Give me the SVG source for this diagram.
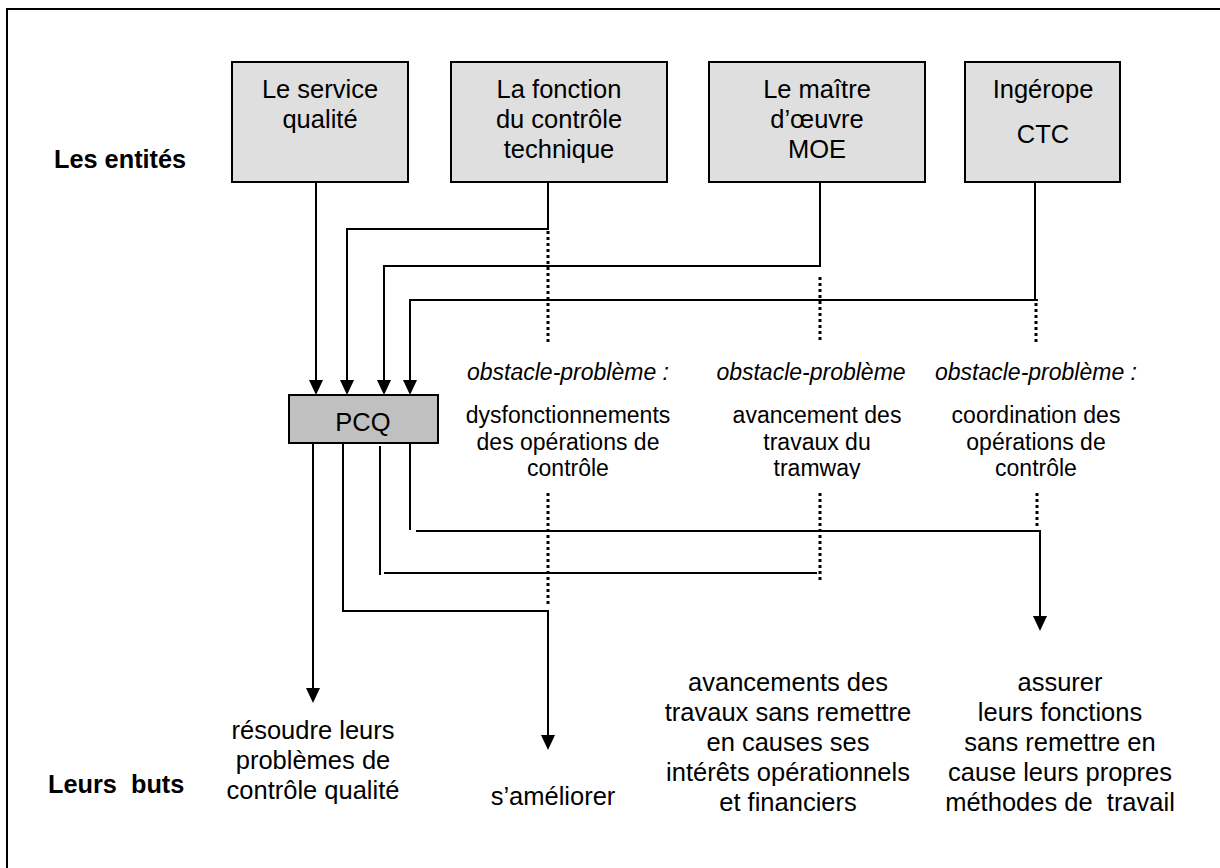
<svg xmlns="http://www.w3.org/2000/svg" width="1220" height="868" viewBox="0 0 1220 868">
<style>
text{font-family:"Liberation Sans",Arial,sans-serif;fill:#000;}
.t{font-size:25.5px;text-anchor:middle;}
.m{font-size:23px;text-anchor:middle;}
.i{font-size:23px;text-anchor:middle;font-style:italic;}
.b{font-size:25.3px;font-weight:bold;}
.box{fill:#dfdfdf;stroke:#000;stroke-width:2;}
.pcq{fill:#c0c0c0;stroke:#000;stroke-width:2;}
.ln{fill:none;stroke:#000;stroke-width:2;}
.ar{fill:none;stroke:#000;stroke-width:2;marker-end:url(#ah);}
.dot{fill:none;stroke:#000;stroke-width:3;stroke-dasharray:3 3;}
</style>
<defs>
<marker id="ah" markerUnits="userSpaceOnUse" markerWidth="15" markerHeight="14" viewBox="0 0 15 14" refX="0" refY="7" orient="auto">
<path d="M0,0 L15,7 L0,14 z" fill="#000"/>
</marker>
<clipPath id="clipTram"><rect x="700" y="390" width="240" height="89"/></clipPath>
</defs>
<rect x="0" y="0" width="1220" height="868" fill="#fff"/>
<path d="M7,868 V9 H1220" fill="none" stroke="#000" stroke-width="2"/>

<g id="label-entites"><text class="b" x="54" y="168">Les entités</text></g>
<g id="label-buts"><text class="b" x="48" y="793" xml:space="preserve">Leurs  buts</text></g>

<g id="node-service">
<rect class="box" x="232" y="62" width="176" height="120"/>
<text class="t" x="320" y="98">Le service</text>
<text class="t" x="320" y="128">qualité</text>
</g>
<g id="node-fonction">
<rect class="box" x="451" y="62" width="216" height="120"/>
<text class="t" x="559" y="98">La fonction</text>
<text class="t" x="559" y="128">du contrôle</text>
<text class="t" x="559" y="158">technique</text>
</g>
<g id="node-moe">
<rect class="box" x="709" y="62" width="216" height="120"/>
<text class="t" x="817" y="98">Le maître</text>
<text class="t" x="817" y="128">d’œuvre</text>
<text class="t" x="817" y="158">MOE</text>
</g>
<g id="node-ingerope">
<rect class="box" x="965" y="62" width="155" height="120"/>
<text class="t" x="1043" y="98">Ingérope</text>
<text class="t" x="1043" y="143">CTC</text>
</g>
<g id="node-pcq">
<rect class="pcq" x="289" y="395" width="149" height="48"/>
<text class="t" x="363" y="431">PCQ</text>
</g>

<g id="obstacle-1">
<text class="i" x="568" y="380">obstacle-problème :</text>
<text class="m" x="568" y="423">dysfonctionnements</text>
<text class="m" x="568" y="450">des opérations de</text>
<text class="m" x="568" y="476">contrôle</text>
</g>
<g id="obstacle-2">
<text class="i" x="811" y="380">obstacle-problème</text>
<g clip-path="url(#clipTram)">
<text class="m" x="817" y="423">avancement des</text>
<text class="m" x="817" y="450">travaux du</text>
<text class="m" x="817" y="476">tramway</text>
</g>
</g>
<g id="obstacle-3">
<text class="i" x="1036" y="380">obstacle-problème :</text>
<text class="m" x="1036" y="423">coordination des</text>
<text class="m" x="1036" y="450">opérations de</text>
<text class="m" x="1036" y="476">contrôle</text>
</g>

<g id="but-1">
<text class="t" x="313" y="739">résoudre leurs</text>
<text class="t" x="313" y="769">problèmes de</text>
<text class="t" x="313" y="799">contrôle qualité</text>
</g>
<g id="but-2"><text class="t" x="553" y="805">s’améliorer</text></g>
<g id="but-3">
<text class="t" x="788" y="691">avancements des</text>
<text class="t" x="788" y="721">travaux sans remettre</text>
<text class="t" x="788" y="751">en causes ses</text>
<text class="t" x="788" y="781">intérêts opérationnels</text>
<text class="t" x="788" y="811">et financiers</text>
</g>
<g id="but-4">
<text class="t" x="1060" y="691">assurer</text>
<text class="t" x="1060" y="721">leurs fonctions</text>
<text class="t" x="1060" y="751">sans remettre en</text>
<text class="t" x="1060" y="781">cause leurs propres</text>
<text class="t" x="1060" y="811" xml:space="preserve">méthodes de  travail</text>
</g>

<g id="connectors">
<path class="ar" d="M316,182 V380"/>
<path class="ar" d="M548,182 V229 H347 V380"/>
<path class="ar" d="M820,182 V266 H384 V380"/>
<path class="ln" d="M1035,182 V300" stroke-width="3"/>
<path class="ar" d="M1038,300 H410 V380"/>
<path class="dot" d="M548,231 V343"/>
<path class="dot" d="M820,277 V343"/>
<path class="dot" d="M1036,303 V343"/>
<path class="dot" d="M548,493 V605"/>
<path class="dot" d="M820,493 V581"/>
<path class="dot" d="M1037,493 V529"/>
<path class="ar" d="M313,443 V688"/>
<path class="ar" d="M343,443 V611 H548 V735"/>
<path class="ln" d="M380,446 V575"/>
<path class="ln" d="M384,573 H817"/>
<path class="ln" d="M410,443 V530"/>
<path class="ar" d="M416,531 H1040 V616"/>
</g>
</svg>
